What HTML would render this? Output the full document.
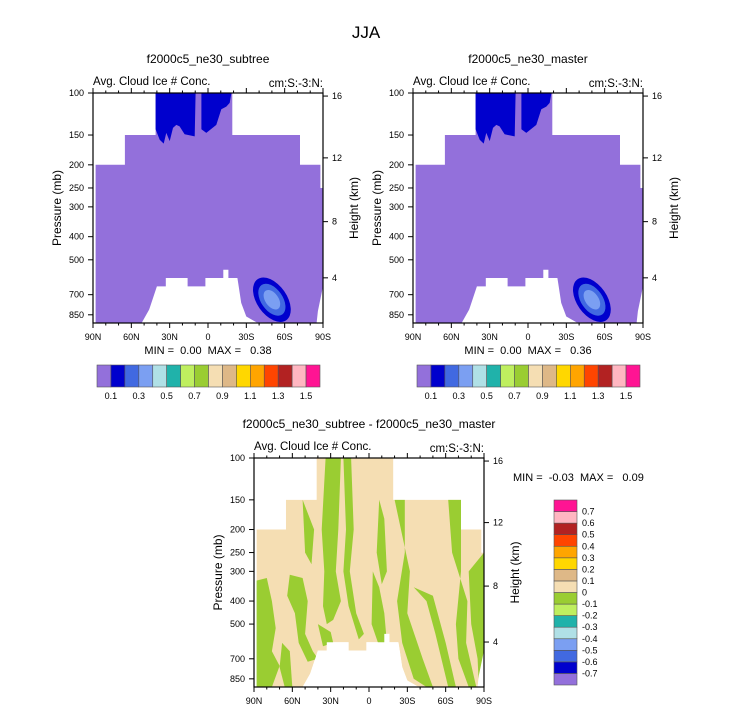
<!DOCTYPE html>
<html><head><meta charset="utf-8"><style>
html,body{margin:0;padding:0;background:#fff;}
svg{display:block;font-family:"Liberation Sans",sans-serif;}
</style></head><body>
<svg id="fig" width="733" height="712" viewBox="0 0 733 712" xmlns="http://www.w3.org/2000/svg">
<text x="366" y="38" font-size="17" text-anchor="middle">JJA</text>
</svg>
<script>
const NS='http://www.w3.org/2000/svg';
const svg=document.getElementById('fig');
// ---------- data ----------
const latTicks=[90,60,30,0,-30,-60,-90];
const latTickLabels=['90N','60N','30N','0','30S','60S','90S'];
const presTicks=[100,150,200,250,300,400,500,700,850];
const heightTicks=[4,8,12,16];
const heightPres=[595,346,187,103];
const pBottom=920;
// domain mask (lat,p)
const maskLat=[41,-19,-19,-72,-72,-88,-88,-90,-90,-86,-85, -38,-30,-26,-24,-23,-16,-16,-12,-12,-9,-9,2,2,16,16,33,33,40,46,52, 88,88,65,65,41];
const maskP  =[100,100,150,150,200,200,250,250,646,820,920, 915,864,758,646,596,596,550,550,596,596,596,596,646,646,596,596,646,646,808,920, 920,200,200,150,150];
// dark-blue upper regions
const ice1Lat=[41,41,37.8,34.7,32.6,30,27.4,24.8,22.2,18.3,10.4,9.7];
const ice1P  =[100,142,157,163,147,159,140,136,138,149,152,100];
const ice2Lat=[5.2,5.2,1.3,-6.5,-10.4,-14.3,-17,-18.3];
const ice2P  =[100,142,147,136,117,114,110,100];
// lower-level maximum near 50S
const blobLat=-50, blobP=735;
const blobLevels=[0.2,0.3,0.4];
const panelMin=['0.00','0.00','-0.03'];
const panelMax=['0.38','0.36','0.09'];
// diff panel green (negative) regions
const greenPolys=[
 [[34,100],[22,100],[24,200],[26,300],[22,400],[28,480],[33,500],[36,420],[35,300],[37,200]],
 [[20,100],[14,100],[12,200],[15,300],[10,450],[4,550],[8,580],[16,420],[20,300],[18,200]],
 [[-3,300],[-2,500],[-8,620],[-14,600],[-12,450],[-8,350]],
 [[-20,150],[-28,150],[-28,250],[-22,400],[-26,600],[-35,850],[-45,920],[-50,920],[-42,700],[-30,450],[-32,300]],
 [[-35,350],[-45,400],[-52,550],[-58,750],[-62,920],[-68,920],[-60,600],[-50,380]],
 [[-62,150],[-72,150],[-72,300],[-68,500],[-70,700],[-78,920],[-84,920],[-76,600],[-77,400],[-65,250]],
 [[-78,300],[-90,250],[-90,920],[-86,920],[-85,700],[-80,500]],
 [[90,330],[80,320],[76,400],[73,520],[76,650],[70,750],[76,920],[90,920]],
 [[62,310],[52,320],[48,400],[50,550],[44,650],[40,700],[48,720],[55,600],[58,450],[64,380]],
 [[40,500],[30,540],[28,600],[36,620]],
 [[52,150],[50,250],[45,280],[43,200]],
 [[68,600],[62,650],[60,920],[66,920],[70,760]],
 [[-8,150],[-12,180],[-14,300],[-10,340],[-6,250]],
 [[30,300],[26,350],[30,420],[33,380]]
];
const cbColors=['#9370DB','#0000CD','#4169E1','#7B9FF2','#B0E0E6','#20B2AA','#BFEF5F','#9ACD32','#F5DEB3','#DEB887','#FFD700','#FFA500','#FF4500','#B22222','#FFB6C1','#FF1493'];
const cbLabelsH=['0.1','0.3','0.5','0.7','0.9','1.1','1.3','1.5'];
const cbLabelsV=['0.7','0.6','0.5','0.4','0.3','0.2','0.1','0','-0.1','-0.2','-0.3','-0.4','-0.5','-0.6','-0.7'];

function mk(tag,a,parent){const e=document.createElementNS(NS,tag);for(const k in a)e.setAttribute(k,a[k]);(parent||svg).appendChild(e);return e;}

function panel(idx,ox,oy,W,H,title,isDiff){
  const xs=lat=>ox+(90-lat)/180*W;
  const ys=p=>oy+Math.log10(p/100)/Math.log10(pBottom/100)*H;
  const pts=(la,pa)=>la.map((v,i)=>xs(v).toFixed(1)+','+ys(pa[i]).toFixed(1)).join(' ');
  const g=mk('g',{});
  
  
  const cp=mk('clipPath',{id:'clip'+idx},g);
  mk('rect',{x:ox,y:oy,width:W,height:H},cp);
  const plot=mk('g',{'clip-path':'url(#clip'+idx+')'},g);
  const base=mk('polygon',{points:pts(maskLat,maskP),fill:isDiff?'#F5DEB3':'#9370DB'},plot);
  
  
  if(!isDiff){
    const a=mk('polygon',{points:pts(ice1Lat,ice1P),fill:'#0000CD'},plot);
    
    
    const b=mk('polygon',{points:pts(ice2Lat,ice2P),fill:'#0000CD'},plot);
    
    
    const cx=xs(blobLat),cy=ys(blobP);
    const fills=['#0000CD','#4169E1','#7B9FF2'];
    blobLevels.forEach((lv,i)=>{
      const s=1-i*0.28;
      const e=mk('ellipse',{cx:cx,cy:cy,rx:15*s,ry:25*s,fill:fills[i],transform:'rotate(-35 '+cx+' '+cy+')'},plot);
      
      
    });
  } else {
    greenPolys.forEach(poly=>{
      const e=mk('polygon',{points:pts(poly.map(q=>q[0]),poly.map(q=>q[1])),fill:'#9ACD32'},plot);
      
      
    });
    const inv=mk('path',{d:'M'+ox+','+oy+'h'+W+'v'+H+'h'+(-W)+'z M'+pts(maskLat,maskP).split(' ').join(' L')+'z','fill-rule':'evenodd',fill:'#fff'},plot);
    
    
  }
  const fr=mk('rect',{x:ox,y:oy,width:W,height:H,fill:'none',stroke:'#000','stroke-width':1.2},g);
  
  
  for(let l=90;l>=-90;l-=10){
    const major=latTicks.includes(l);const len=major?5:2.5;const x=xs(l);
    mk('line',{x1:x,x2:x,y1:oy+H,y2:oy+H+len,stroke:'#000','stroke-width':1},g);
    mk('line',{x1:x,x2:x,y1:oy,y2:oy-len,stroke:'#000','stroke-width':1},g);
  }
  latTicks.forEach((l,i)=>{
    const t=mk('text',{x:xs(l),y:oy+H+17,'font-size':9,'text-anchor':'middle'},g);
    
    
    t.textContent=latTickLabels[i];
  });
  presTicks.forEach(p=>{
    const y=ys(p);
    mk('line',{x1:ox,x2:ox-5,y1:y,y2:y,stroke:'#000','stroke-width':1},g);
    const t=mk('text',{x:ox-9,y:y+3,'font-size':9,'text-anchor':'end'},g);
    
    
    t.textContent=p;
  });
  heightTicks.forEach((h,i)=>{
    const y=ys(heightPres[i]);
    mk('line',{x1:ox+W,x2:ox+W+5,y1:y,y2:y,stroke:'#000','stroke-width':1},g);
    const t=mk('text',{x:ox+W+9,y:y+3,'font-size':9},g);
    
    
    t.textContent=h;
  });
  const yl=mk('text',{x:ox-32,y:oy+H/2,'font-size':12,'text-anchor':'middle',transform:'rotate(-90 '+(ox-32)+' '+(oy+H/2)+')'},g);
  
  
  yl.textContent='Pressure (mb)';
  const yr=mk('text',{x:ox+W+35,y:oy+H/2,'font-size':12,'text-anchor':'middle',transform:'rotate(-90 '+(ox+W+35)+' '+(oy+H/2)+')'},g);
  
  
  yr.textContent='Height (km)';
  const tt=mk('text',{x:ox+W/2,y:oy-30,'font-size':12,'text-anchor':'middle'},g);
  
  
  tt.textContent=title;
  const ls=mk('text',{x:ox,y:oy-8,'font-size':11.5},g);
  
  
  ls.textContent='Avg. Cloud Ice # Conc.';
  const rs=mk('text',{x:ox+W,y:oy-6,'font-size':11.5,'text-anchor':'end'},g);
  
  
  rs.textContent='cm:S:-3:N:';
  const mm=isDiff?mk('text',{x:513,y:481,'font-size':11},g):mk('text',{x:ox+W/2,y:oy+H+31,'font-size':11,'text-anchor':'middle'},g);
  
  
  mm.setAttribute('style','white-space:pre');
  mm.textContent='MIN =  '+panelMin[idx]+'  MAX =   '+panelMax[idx];
}
function hbar(x0,y0,w,h){
  const g=mk('g',{});
  
  
  const bw=w/cbColors.length;
  cbColors.forEach((c,i)=>{
    const r=mk('rect',{x:x0+i*bw,y:y0,width:bw,height:h,fill:c,stroke:'#555','stroke-width':0.6},g);
    
    
  });
  cbLabelsH.forEach((s,i)=>{
    const t=mk('text',{x:x0+(1+2*i)*bw,y:y0+h+12,'font-size':9,'text-anchor':'middle'},g);
    
    
    t.textContent=s;
  });
}
function vbar(x0,y0,w,h){
  const g=mk('g',{});
  
  
  const n=cbColors.length,bh=h/n;
  cbColors.forEach((c,i)=>{
    const r=mk('rect',{x:x0,y:y0+(n-1-i)*bh,width:w,height:bh,fill:c,stroke:'#555','stroke-width':0.6},g);
    
    
  });
  cbLabelsV.forEach((s,i)=>{
    const t=mk('text',{x:x0+w+5,y:y0+(i+1)*bh+3,'font-size':9},g);
    
    
    t.textContent=s;
  });
}
panel(0,93,93,230,230,'f2000c5_ne30_subtree',false);
panel(1,413,93,230,230,'f2000c5_ne30_master',false);
panel(2,254,458,230,229,'f2000c5_ne30_subtree - f2000c5_ne30_master',true);
hbar(97,365,223,22);
hbar(417,365,223,22);
vbar(554,500,23,185);
</script>
</body></html>
